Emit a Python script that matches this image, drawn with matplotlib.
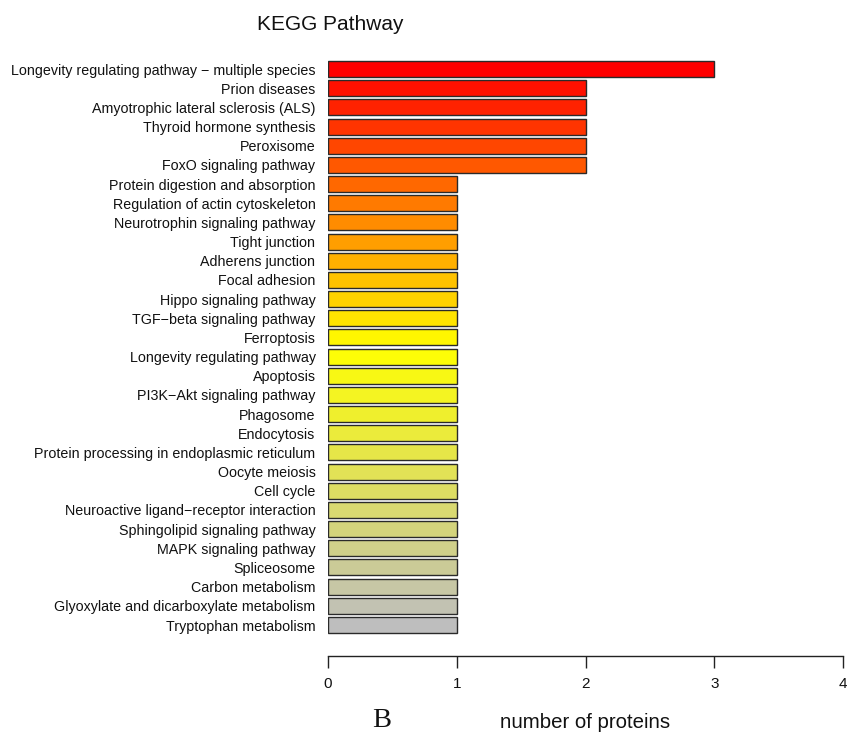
import matplotlib
matplotlib.use("Agg")
import matplotlib.pyplot as plt
import numpy as np
from matplotlib.colors import LinearSegmentedColormap

pathways = [
    "Longevity regulating pathway \u2212 multiple species",
    "Prion diseases",
    "Amyotrophic lateral sclerosis (ALS)",
    "Thyroid hormone synthesis",
    "Peroxisome",
    "FoxO signaling pathway",
    "Protein digestion and absorption",
    "Regulation of actin cytoskeleton",
    "Neurotrophin signaling pathway",
    "Tight junction",
    "Adherens junction",
    "Focal adhesion",
    "Hippo signaling pathway",
    "TGF\u2212beta signaling pathway",
    "Ferroptosis",
    "Longevity regulating pathway",
    "Apoptosis",
    "PI3K\u2212Akt signaling pathway",
    "Phagosome",
    "Endocytosis",
    "Protein processing in endoplasmic reticulum",
    "Oocyte meiosis",
    "Cell cycle",
    "Neuroactive ligand\u2212receptor interaction",
    "Sphingolipid signaling pathway",
    "MAPK signaling pathway",
    "Spliceosome",
    "Carbon metabolism",
    "Glyoxylate and dicarboxylate metabolism",
    "Tryptophan metabolism",
]
counts = [3, 2, 2, 2, 2, 2] + [1] * 24
x_ticks = [0, 1, 2, 3, 4]

plt.rcParams['font.family'] = ['Liberation Sans', 'DejaVu Sans']

W, H = 848, 732
fig = plt.figure(figsize=(W / 100, H / 100), dpi=100)

# axes in pixel coordinates
x0, x1 = 328, 843
y_top, y_bot = 50, 656
ax = fig.add_axes([x0 / W, 1 - y_bot / H, (x1 - x0) / W, (y_bot - y_top) / H])

n = len(pathways)
cmap = LinearSegmentedColormap.from_list(
    "ryg", [(1, 0, 0), (1, 1, 0), (190 / 255, 190 / 255, 190 / 255)])
colors = [cmap(i / (n - 1)) for i in range(n)]

pos = np.arange(n)
ax.barh(pos, counts, height=0.833, color=colors, edgecolor="#2a2a2a", linewidth=1.0)

# pixel mapping: first center 69, last center 625
pitch = (625 - 69) / (n - 1)
ax.set_ylim((n - 1) + (y_bot - 625) / pitch, -(69 - y_top) / pitch)
ax.set_xlim(0, 4)

ax.set_yticks(pos)
ax.set_yticklabels(pathways, fontsize=10.25, color="#111111")
ax.tick_params(axis="y", length=0, pad=9)

ax.set_xticks(x_ticks)
ax.set_xticklabels([str(t) for t in x_ticks], fontsize=11, color="#111111")
ax.tick_params(axis="x", direction="out", length=8.6, width=1.0, pad=6.5, color="#222222")

for s in ["top", "right", "left"]:
    ax.spines[s].set_visible(False)
ax.spines["bottom"].set_linewidth(1.0)
ax.spines["bottom"].set_color("#222222")

fig.text(330 / W, 1 - 30 / H, "KEGG Pathway", fontsize=15, ha="center", va="baseline", color="#111111")
fig.text(585 / W, 1 - 728 / H, "number of proteins", fontsize=14.7, ha="center", va="baseline", color="#111111")
fig.text(382 / W, 1 - 727 / H, "B", fontsize=20.5, ha="center", va="baseline",
         family=["Liberation Serif", "DejaVu Serif"], color="#111111")

fig.savefig("out.png", dpi=100)
